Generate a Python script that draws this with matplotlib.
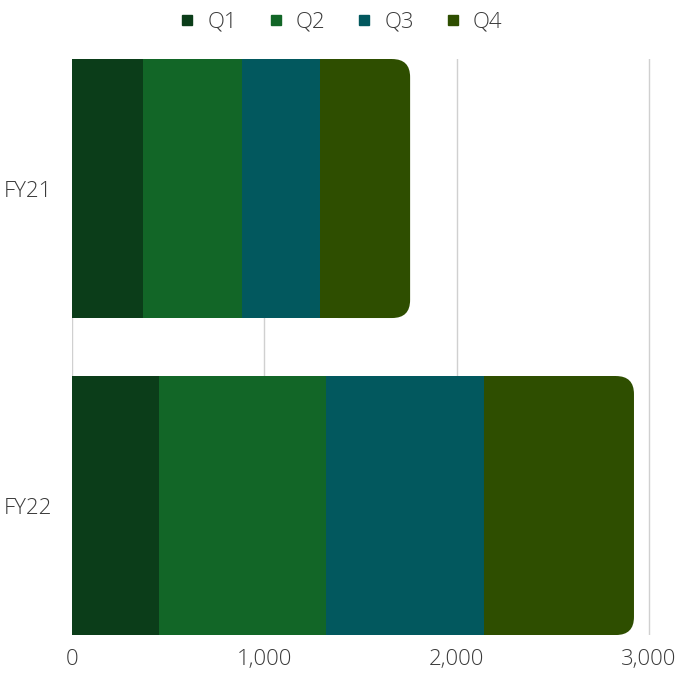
import matplotlib
matplotlib.use("Agg")
import matplotlib.pyplot as plt
from matplotlib.patches import FancyBboxPatch
from matplotlib.lines import Line2D

plt.rcParams['font.family'] = ['Open Sans', 'DejaVu Sans']

years = ["FY21", "FY22"]
quarters = ["Q1", "Q2", "Q3", "Q4"]
q1 = [369, 452]
q2 = [515, 869]
q3 = [406, 821]
q4 = [468, 780]
colors = ["#0B3D19", "#126627", "#02585E", "#2E4E00"]

xmax = 3040
ax_w = 0.851 * xmax / 3000
fig = plt.figure(figsize=(6.78, 6.77), dpi=100)
ax = fig.add_axes([0.1062, 0.062, ax_w, 0.8508])

ypos = [1, 0]  # FY21 on top
bar_h = 0.817
ax.set_xlim(0, xmax)
ax.set_ylim(-bar_h / 2, 1 + bar_h / 2)

# pixel scale, used for rounded end
w_px = ax_w * 678
h_px = 0.8508 * 677
px_x = w_px / xmax
px_y = h_px / (1 + bar_h)
r_px = 18
r_x = r_px / px_x
aspect = (r_px / px_y) / r_x

series = [q1, q2, q3]
for i in range(2):
    left = 0
    for s, vals in enumerate(series):
        ax.barh(ypos[i], vals[i], left=left, height=bar_h, color=colors[s], zorder=3)
        left += vals[i]
    # Q4 with rounded right end
    box = FancyBboxPatch((left, ypos[i] - bar_h / 2), q4[i], bar_h,
                         boxstyle="round,pad=0,rounding_size=%f" % r_x,
                         mutation_aspect=aspect, facecolor=colors[3],
                         edgecolor="none", zorder=3)
    ax.add_patch(box)
    ax.barh(ypos[i], q4[i] - r_x, left=left, height=bar_h, color=colors[3], zorder=3)

ax.set_yticks(ypos)
ax.set_yticklabels(years, fontweight="light")
ax.set_xticks([0, 1000, 2000, 3000])
ax.set_xticklabels(["0", "1,000", "2,000", "3,000"], fontweight="light")
ax.tick_params(axis="both", length=0, labelsize=16, colors="#3A3A3A")
ax.tick_params(axis="x", pad=10)
ax.tick_params(axis="y", pad=14)
ax.grid(axis="x", color="#D0D0D0", linewidth=1, zorder=0)
for sp in ax.spines.values():
    sp.set_visible(False)

handles = [Line2D([0], [0], marker="s", linestyle="none", markersize=7,
                  markerfacecolor=c, markeredgecolor=c) for c in colors]
fig.legend(handles, quarters, loc="center", bbox_to_anchor=(0.502, 0.967), ncol=4,
           frameon=False, prop={"size": 16, "weight": "light"}, labelcolor="#3A3A3A",
           handlelength=0.8, handletextpad=0.5, columnspacing=1.35)

fig.savefig("out.png", dpi=100)
